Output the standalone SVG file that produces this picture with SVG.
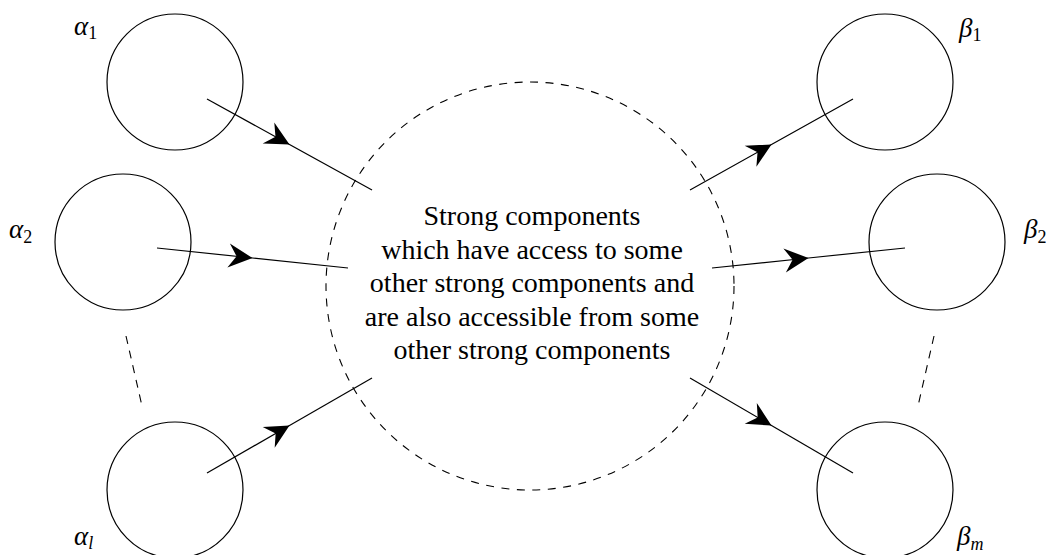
<svg xmlns="http://www.w3.org/2000/svg" width="1052" height="555" viewBox="0 0 1052 555">
<style>
.node{fill:none;stroke:#000;stroke-width:1.2}
.big{fill:none;stroke:#000;stroke-width:1.1;stroke-dasharray:8 7.5}
.edge{fill:none;stroke:#000;stroke-width:1.2;marker-mid:url(#arr)}
.dash{fill:none;stroke:#000;stroke-width:1.1;stroke-dasharray:8 7}
.lbl{font-family:"Liberation Serif",serif;font-style:italic;font-size:27px;fill:#000}
.sub{font-family:"Liberation Serif",serif;font-style:normal;font-size:18px}
.subi{font-family:"Liberation Serif",serif;font-style:italic;font-size:18px}
.txt{font-family:"Liberation Serif",serif;font-size:28px;fill:#000;text-anchor:middle}
</style>
<defs>
<marker id="arr" markerWidth="30" markerHeight="30" refX="0" refY="0" viewBox="-26 -14 30 28" orient="auto" markerUnits="userSpaceOnUse">
<path d="M0,0 L-24,-12 L-16,0 L-24,12 Z" fill="#000"/>
</marker>
</defs>
<g id="center">
<circle class="big" cx="530" cy="286" r="204"/>
<text class="txt" x="532" y="225">Strong components</text>
<text class="txt" x="532" y="259">which have access to some</text>
<text class="txt" x="532" y="292">other strong components and</text>
<text class="txt" x="532" y="326">are also accessible from some</text>
<text class="txt" x="532" y="359">other strong components</text>
</g>
<g id="alpha1"><circle class="node" cx="175" cy="82" r="68"/><text class="lbl" x="74" y="35">α<tspan class="sub" dy="4">1</tspan></text></g>
<g id="alpha2"><circle class="node" cx="123" cy="242" r="68"/><text class="lbl" x="9" y="238">α<tspan class="sub" dy="5">2</tspan></text></g>
<g id="alphal"><circle class="node" cx="175" cy="490" r="68"/><text class="lbl" x="74" y="545">α<tspan class="subi" dy="4">l</tspan></text></g>
<g id="beta1"><circle class="node" cx="885" cy="82" r="68"/><text class="lbl" x="959" y="37">β<tspan class="sub" dy="4">1</tspan></text></g>
<g id="beta2"><circle class="node" cx="937" cy="242" r="68"/><text class="lbl" x="1024" y="238">β<tspan class="sub" dy="5">2</tspan></text></g>
<g id="betam"><circle class="node" cx="885" cy="490" r="68"/><text class="lbl" x="957" y="545">β<tspan class="subi" dy="5">m</tspan></text></g>
<g id="connectors">
<polyline class="edge" points="207,99 289.5,144.5 372,190"/>
<polyline class="edge" points="157,248 252.5,258 348,268"/>
<polyline class="edge" points="207,473 289.5,425.5 372,378"/>
<polyline class="edge" points="690,190 771.5,144.5 853,99"/>
<polyline class="edge" points="712,268 808.5,258 905,248"/>
<polyline class="edge" points="690,378 771.5,425.5 853,473"/>
<line class="dash" x1="126" y1="336" x2="142" y2="406"/>
<line class="dash" x1="934" y1="336" x2="918" y2="406"/>
</g>
</svg>
